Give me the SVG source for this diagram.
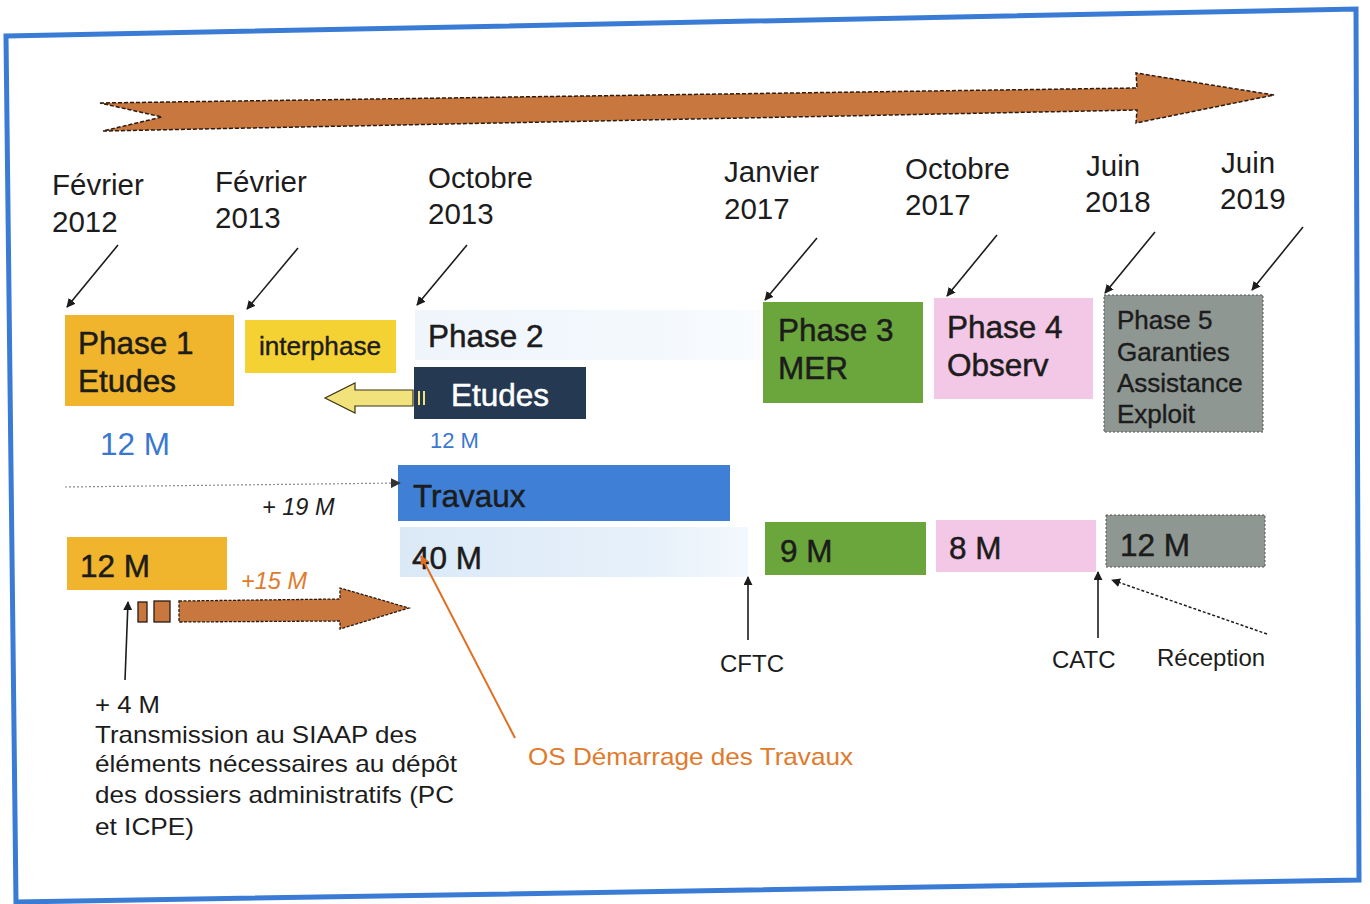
<svg xmlns="http://www.w3.org/2000/svg" width="1370" height="904" viewBox="0 0 1370 904">
  <style>
    text { font-family: "Liberation Sans", Arial, sans-serif; fill: #1c1c1c; }
    .date { font-size: 29.5px; }
    .big { font-size: 31.5px; stroke: #1c1c1c; stroke-width: 0.5; }
    .mid { font-size: 26px; stroke: #1c1c1c; stroke-width: 0.4; }
    .small { font-size: 24px; }
    .blue { fill: #3a78d0; stroke: none; }
    .orange { fill: #e07a2c; }
    .ital { font-style: italic; }
    .ptr { stroke: #1c1c1c; stroke-width: 1.6; fill: none; marker-end: url(#head); }
  </style>
  <defs>
    <marker id="head" viewBox="0 0 10 10" refX="9" refY="5" markerWidth="9" markerHeight="9" markerUnits="userSpaceOnUse" orient="auto">
      <path d="M0,0 L10,5 L0,10 z" fill="#1c1c1c"/>
    </marker>
    <marker id="headO" viewBox="0 0 10 10" refX="9" refY="5" markerWidth="9" markerHeight="9" markerUnits="userSpaceOnUse" orient="auto">
      <path d="M0,0 L10,5 L0,10 z" fill="#e07020"/>
    </marker>
    <marker id="headG" viewBox="0 0 10 10" refX="9" refY="5" markerWidth="10" markerHeight="10" markerUnits="userSpaceOnUse" orient="auto">
      <path d="M0,0 L10,5 L0,10 z" fill="#333"/>
    </marker>
    <linearGradient id="haze" x1="0" y1="0" x2="1" y2="0">
      <stop offset="0" stop-color="#dbe9f7"/>
      <stop offset="0.7" stop-color="#e6f0fa"/>
      <stop offset="1" stop-color="#f3f8fd"/>
    </linearGradient>
  </defs>

  <!-- frame -->
  <rect width="1370" height="904" fill="#ffffff"/>
  <polygon points="6,36 1356,9 1359,880 16,902" fill="none" stroke="#3a7bd5" stroke-width="5"/>

  <!-- timeline arrow -->
  <g id="timeline">
    <path d="M100,103 L1137,88 L1136,73 L1274,95 L1136,123 L1137,110 L103,131 L162,117 Z" fill="#c8783e" stroke="#2a1a10" stroke-width="1.5" stroke-dasharray="4 2"/>
  </g>

  <!-- dates -->
  <g id="dates">
    <text class="date" x="52" y="195">Février</text>
    <text class="date" x="52" y="232">2012</text>
    <text class="date" x="215" y="192">Février</text>
    <text class="date" x="215" y="228">2013</text>
    <text class="date" x="428" y="188">Octobre</text>
    <text class="date" x="428" y="224">2013</text>
    <text class="date" x="724" y="182">Janvier</text>
    <text class="date" x="724" y="219">2017</text>
    <text class="date" x="905" y="179">Octobre</text>
    <text class="date" x="905" y="215">2017</text>
    <text class="date" x="1086" y="176">Juin</text>
    <text class="date" x="1085" y="212">2018</text>
    <text class="date" x="1221" y="173">Juin</text>
    <text class="date" x="1220" y="209">2019</text>
  </g>

  <!-- faint backgrounds -->
  <rect x="415" y="310" width="345" height="50" fill="url(#haze)" opacity="0.45"/>
  <rect x="400" y="527" width="348" height="50" fill="url(#haze)"/>

  <!-- phase nodes -->
  <g id="phase1">
    <rect x="65" y="315" width="169" height="91" fill="#f0b52c"/>
    <text class="big" x="78" y="354">Phase 1</text>
    <text class="big" x="78" y="392">Etudes</text>
  </g>
  <g id="interphase">
    <rect x="245" y="320" width="151" height="53" fill="#f5d234"/>
    <text class="mid" x="259" y="355" textLength="122" lengthAdjust="spacingAndGlyphs">interphase</text>
  </g>
  <g id="phase2">
    <text class="big" x="428" y="347">Phase 2</text>
  </g>
  <g id="etudes2">
    <rect x="414" y="367" width="172" height="52" fill="#253a52"/>
    <text class="big" x="451" y="406" style="fill:#ffffff;stroke:#ffffff">Etudes</text>
  </g>
  <g id="phase3">
    <rect x="763" y="302" width="160" height="101" fill="#6aa63c"/>
    <text class="big" x="778" y="341">Phase 3</text>
    <text class="big" x="778" y="379">MER</text>
  </g>
  <g id="phase4">
    <rect x="934" y="298" width="159" height="101" fill="#f3c7e6"/>
    <text class="big" x="947" y="338">Phase 4</text>
    <text class="big" x="947" y="376">Observ</text>
  </g>
  <g id="phase5">
    <rect x="1104" y="295" width="159" height="137" fill="#8f9792" stroke="#555" stroke-width="1" stroke-dasharray="2 2"/>
    <text class="mid" x="1117" y="329">Phase 5</text>
    <text class="mid" x="1117" y="361">Garanties</text>
    <text class="mid" x="1117" y="392">Assistance</text>
    <text class="mid" x="1117" y="423">Exploit</text>
  </g>
  <g id="travaux">
    <rect x="398" y="465" width="332" height="56" fill="#3f80d6"/>
    <text class="big" x="413" y="507">Travaux</text>
  </g>

  <!-- duration nodes -->
  <g id="d12a">
    <rect x="67" y="537" width="160" height="53" fill="#f0b52c"/>
    <text class="big" x="80" y="577">12 M</text>
  </g>
  <g id="d40">
    <text class="big" x="412" y="569">40 M</text>
  </g>
  <g id="d9">
    <rect x="765" y="522" width="161" height="53" fill="#6aa63c"/>
    <text class="big" x="780" y="562">9 M</text>
  </g>
  <g id="d8">
    <rect x="936" y="520" width="160" height="52" fill="#f3c7e6"/>
    <text class="big" x="949" y="559">8 M</text>
  </g>
  <g id="d12b">
    <rect x="1106" y="515" width="159" height="52" fill="#8f9792" stroke="#555" stroke-width="1" stroke-dasharray="2 2"/>
    <text class="big" x="1120" y="556">12 M</text>
  </g>

  <!-- labels -->
  <g id="labels">
    <text class="big blue" x="100" y="455">12 M</text>
    <text class="blue" x="430" y="448" style="font-size:22px">12 M</text>
    <text class="ital" x="262" y="515" style="font-size:23.5px">+ 19 M</text>
    <text class="ital orange" x="241" y="589" style="font-size:23.5px">+15 M</text>
    <text class="small" x="95" y="713" textLength="65" lengthAdjust="spacingAndGlyphs">+ 4 M</text>
    <text class="small" x="95" y="743" textLength="322" lengthAdjust="spacingAndGlyphs">Transmission au SIAAP des</text>
    <text class="small" x="95" y="772" textLength="362" lengthAdjust="spacingAndGlyphs">éléments nécessaires au dépôt</text>
    <text class="small" x="95" y="803" textLength="359" lengthAdjust="spacingAndGlyphs">des dossiers administratifs (PC</text>
    <text class="small" x="95" y="835" textLength="99" lengthAdjust="spacingAndGlyphs">et ICPE)</text>
    <text class="small orange" x="528" y="765" textLength="325" lengthAdjust="spacingAndGlyphs">OS Démarrage des Travaux</text>
    <text class="small" x="720" y="672">CFTC</text>
    <text class="small" x="1052" y="668">CATC</text>
    <text class="small" x="1157" y="666">Réception</text>
  </g>

  <!-- connectors -->
  <g id="connectors">
    <line class="ptr" x1="118" y1="245" x2="67" y2="307"/>
    <line class="ptr" x1="298" y1="248" x2="247" y2="309"/>
    <line class="ptr" x1="467" y1="245" x2="417" y2="305"/>
    <line class="ptr" x1="817" y1="238" x2="765" y2="300"/>
    <line class="ptr" x1="997" y1="235" x2="947" y2="296"/>
    <line class="ptr" x1="1155" y1="232" x2="1105" y2="293"/>
    <line class="ptr" x1="1303" y1="227" x2="1252" y2="290"/>

    <!-- Etudes back to interphase -->
    <path d="M413,390 L355,390 L355,383 L325,398 L355,413 L355,406 L413,406 Z" fill="#f2e27c" stroke="#3a3410" stroke-width="1.2"/>
    <line x1="419" y1="391" x2="419" y2="405" stroke="#f2e27c" stroke-width="2"/>
    <line x1="424" y1="391" x2="424" y2="405" stroke="#f2e27c" stroke-width="2"/>

    <!-- +19 M dotted link -->
    <line x1="65" y1="487" x2="400" y2="483" stroke="#8a8a8a" stroke-width="1.2" stroke-dasharray="2 2" marker-end="url(#headG)"/>

    <!-- +15 M arrow -->
    <g fill="#c8783e" stroke="#2a1a10" stroke-width="1.3">
      <rect x="138" y="602" width="9" height="20"/>
      <rect x="154" y="601" width="16" height="21"/>
      <path d="M179,601 L340,599 L340,588 L409,608 L340,629 L340,621 L179,622 Z" stroke-dasharray="3 1.5"/>
    </g>

    <line class="ptr" x1="125" y1="680" x2="128" y2="602"/>
    <line x1="515" y1="738" x2="421" y2="556" stroke="#e07020" stroke-width="2" marker-end="url(#headO)"/>
    <line class="ptr" x1="748" y1="640" x2="748" y2="577"/>
    <line class="ptr" x1="1098" y1="638" x2="1098" y2="572"/>
    <line x1="1267" y1="634" x2="1112" y2="580" stroke="#1c1c1c" stroke-width="1.5" stroke-dasharray="3 2" marker-end="url(#head)"/>
  </g>
</svg>
